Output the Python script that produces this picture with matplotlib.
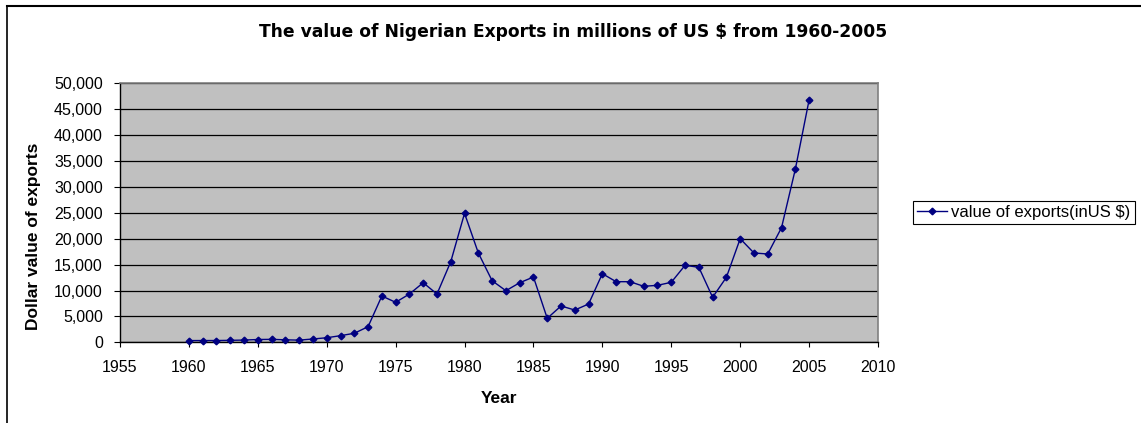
import matplotlib
matplotlib.use("Agg")
import matplotlib.pyplot as plt
from matplotlib.ticker import FuncFormatter, MultipleLocator
from matplotlib.lines import Line2D

years = list(range(1960, 2006))
exports = [330, 340, 340, 380, 430, 540, 570, 480, 420, 640,
           880, 1280, 1740, 3010, 8940, 7720, 9320, 11500, 9320, 15560,
           24900, 17240, 11890, 9960, 11500, 12600, 4630, 7010, 6230, 7390,
           13240, 11700, 11700, 10810, 11000, 11580, 14860, 14480, 8690, 12550,
           20000, 17240, 17050, 22130, 33400, 46780]

title = "The value of Nigerian Exports in millions of US $ from 1960-2005"
series_label = "value of exports(inUS $)"
x_label = "Year"
y_label = "Dollar value of exports"

plt.rcParams['font.family'] = ['Liberation Sans', 'DejaVu Sans']

W, H = 1141, 423
fig = plt.figure(figsize=(W / 100, H / 100), dpi=100)
fig.patch.set_facecolor('white')

ax_left, ax_right, ax_top, ax_bottom = 120, 878, 83.3, 342.3
ax = fig.add_axes([ax_left / W, 1 - ax_bottom / H,
                   (ax_right - ax_left) / W, (ax_bottom - ax_top) / H])
ax.set_facecolor('#C0C0C0')
ax.plot(years, exports, color='#000080', lw=1.0, marker='D', markersize=3.4,
        markerfacecolor='#000080', markeredgecolor='#000080', label=series_label,
        zorder=3, clip_on=False)

ax.set_xlim(1955, 2010)
ax.set_ylim(0, 50000)
ax.xaxis.set_major_locator(MultipleLocator(5))
ax.yaxis.set_major_locator(MultipleLocator(5000))
ax.yaxis.set_major_formatter(FuncFormatter(lambda v, p: f"{int(v):,}"))
ax.grid(axis='y', color='black', lw=0.9, zorder=1)
ax.set_axisbelow(True)

for s in ['top', 'right']:
    ax.spines[s].set_color('#808080')
    ax.spines[s].set_linewidth(1.2)
for s in ['left', 'bottom']:
    ax.spines[s].set_color('black')
    ax.spines[s].set_linewidth(1.0)

ax.tick_params(axis='y', direction='out', length=4.3, width=0.8, color='black',
               labelsize=11.5, pad=8)
ax.tick_params(axis='x', direction='out', length=3.5, width=0.8, color='black',
               labelsize=11.5, pad=9)

ax.set_xlabel(x_label, fontsize=12.5, fontweight='bold', va='center')
ax.xaxis.set_label_coords(0.5, (ax_bottom - 398) / (ax_bottom - ax_top))
ax.set_ylabel(y_label, fontsize=12.5, fontweight='bold', va='center', ha='center')
ax.yaxis.set_label_coords((34 - ax_left) / (ax_right - ax_left),
                          (ax_bottom - 236) / (ax_bottom - ax_top))

fig.text(573 / W, 1 - 36.7 / H, title, ha='center', va='baseline',
         fontsize=12.3, fontweight='bold', family='DejaVu Sans')

leg = ax.legend(loc='center left', bbox_to_anchor=(913 / W, 1 - 212.5 / H),
                bbox_transform=fig.transFigure, fontsize=12, frameon=True,
                fancybox=False, edgecolor='black', framealpha=1,
                borderpad=0.25, handlelength=1.8, handletextpad=0.25,
                borderaxespad=0)
leg.get_frame().set_linewidth(0.8)

fig.add_artist(Line2D([7 / W, 1], [1 - 6.5 / H, 1 - 6.5 / H], transform=fig.transFigure,
                      color='black', lw=1.5))
fig.add_artist(Line2D([7 / W, 7 / W], [0, 1 - 6.5 / H], transform=fig.transFigure,
                      color='black', lw=1.2))

fig.savefig('out.png', dpi=100)
